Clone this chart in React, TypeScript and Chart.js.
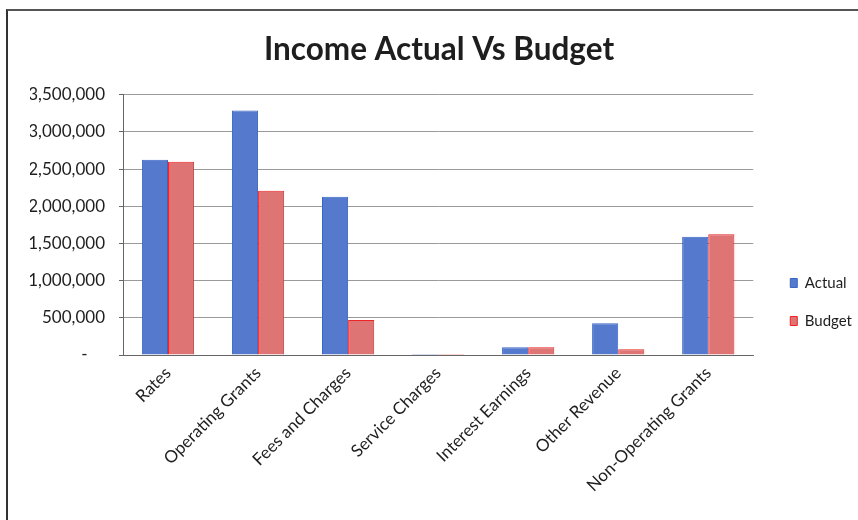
import React, { useEffect, useRef } from "react";
import { Chart, registerables } from "chart.js";

Chart.register(...registerables);

const categories = [
  "Rates",
  "Operating Grants",
  "Fees and Charges",
  "Service Charges",
  "Interest Earnings",
  "Other Revenue",
  "Non-Operating Grants",
];
const actualValues = [2625000, 3290000, 2130000, 15000, 104000, 427000, 1590000];
const budgetValues = [2600000, 2210000, 470000, 15000, 104000, 77000, 1625000];
const yMax = 3500000;
const yStep = 500000;

const legendShift = {
  id: "legendShift",
  afterLayout(chart: any) {
    const lg = chart.legend;
    if (!lg) return;
    const dx = 14;
    const dy = 42;
    lg.left += dx;
    lg.right += dx;
    lg.top += dy;
    lg.bottom += dy;
  },
};

export default function App() {
  const ref = useRef<HTMLCanvasElement | null>(null);
  useEffect(() => {
    if (!ref.current) return;
    const chart = new Chart(ref.current, {
      type: "bar",
      data: {
        labels: categories,
        datasets: [
          {
            label: "Actual",
            data: actualValues,
            backgroundColor: "#5579cc",
            borderColor: "#3a66c4",
            borderWidth: 1,
            categoryPercentage: 0.58,
            barPercentage: 1,
          },
          {
            label: "Budget",
            data: budgetValues,
            backgroundColor: "#de7474",
            borderColor: "#ec2424",
            borderWidth: 1,
            categoryPercentage: 0.58,
            barPercentage: 1,
          },
        ],
      },
      plugins: [legendShift],
      options: {
        responsive: false,
        animation: false,
        layout: { padding: { left: 30, right: 10, top: 0, bottom: 0 } },
        plugins: {
          title: {
            display: true,
            text: "Income Actual Vs Budget",
            color: "#1e1e1e",
            font: { family: "Lato", size: 31.5, weight: "bold", lineHeight: 1.2 },
            padding: { top: 31, bottom: 26 },
          },
          legend: {
            position: "right",
            labels: {
              boxWidth: 7,
              boxHeight: 9,
              padding: 23,
              color: "#1e1e1e",
              font: { family: "Lato", size: 15 },
            },
          },
          tooltip: { enabled: false },
        },
        scales: {
          x: {
            grid: { display: false, drawTicks: false },
            border: { display: true, color: "#666", width: 1 },
            ticks: {
              color: "#1e1e1e",
              font: { family: "Lato", size: 17 },
              maxRotation: 45,
              minRotation: 45,
              autoSkip: false,
              padding: 8,
            },
            afterFit: (scale: any) => {
              scale.height = 165;
            },
          },
          y: {
            min: 0,
            max: yMax,
            grid: { color: "#9a9a9a", lineWidth: 1, tickLength: 4, tickColor: "#666" },
            border: { display: true, color: "#666", width: 1 },
            ticks: {
              stepSize: yStep,
              color: "#1e1e1e",
              font: { family: "Lato", size: 17 },
              padding: 14,
              callback: (v: any) =>
                Number(v) === 0 ? "-    " : Number(v).toLocaleString("en-US"),
            },
            afterFit: (scale: any) => {
              scale.width = 93;
            },
          },
        },
      },
    });
    return () => chart.destroy();
  }, []);

  return (
    <div style={{ position: "fixed", left: 0, top: 0, width: 858, height: 520, background: "#fff" }}>
      <canvas ref={ref} width={858} height={520} style={{ display: "block" }} />
      <div
        style={{
          position: "absolute",
          left: 6,
          top: 9,
          width: 852,
          height: 511,
          borderLeft: "2px solid #333",
          borderTop: "2px solid #555",
          pointerEvents: "none",
        }}
      />
    </div>
  );
}
